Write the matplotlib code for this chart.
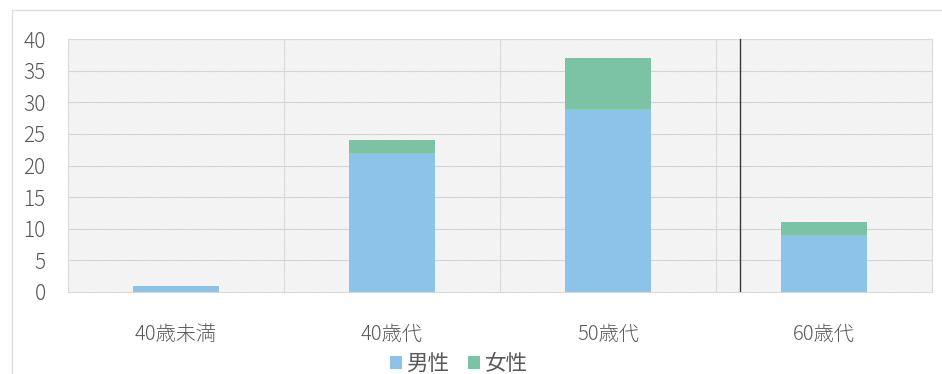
import matplotlib.pyplot as plt
from matplotlib.patches import Rectangle

plt.rcParams['font.family'] = ['Noto Sans CJK JP', 'DejaVu Sans']
plt.rcParams['hatch.color'] = '#e8e8e8'
plt.rcParams['hatch.linewidth'] = 0.5

# data
categories = ['40歳未満', '40歳代', '50歳代', '60歳代']
male = [1, 22, 29, 9]
female = [0, 2, 8, 2]
yticks = [0, 5, 10, 15, 20, 25, 30, 35, 40]

blue = '#8ec3e9'
green = '#7cc3a6'
text_col = '#595959'

fig = plt.figure(figsize=(9.42, 3.74), dpi=100)
fig.patch.set_facecolor('white')

# outer chart frame
fig.patches.append(Rectangle((12 / 942, -0.1), 1.0, 1 - 10 / 374 + 0.1,
                             transform=fig.transFigure, fill=False,
                             edgecolor='#dedede', lw=1))

ax = fig.add_axes([68 / 942, 1 - 292 / 374, 864 / 942, 253 / 374])
ax.set_facecolor('#fcfcfc')

# textured background
ax.add_patch(Rectangle((0, 0), 1, 1, transform=ax.transAxes, facecolor='none',
                       hatch='\\' * 14, lw=0, zorder=0))

x = range(len(categories))
ax.bar(x, male, width=0.4, color=blue, label='男性', zorder=3)
ax.bar(x, female, width=0.4, bottom=male, color=green, label='女性', zorder=3)

ax.set_xlim(-0.5, 3.5)
ax.set_ylim(0, 40)
ax.set_yticks(yticks)
ax.set_xticks(list(x))
ax.set_xticklabels(categories)

# grid lines
for v in yticks[1:]:
    ax.axhline(v, color='#d4d4d4', lw=0.8, zorder=1)
for b in [0.5, 1.5, 2.5]:
    ax.axvline(b, color='#dadada', lw=0.8, zorder=1)
ax.axvline(2.61, color='#3a3a3a', lw=1.0, zorder=4)

for s in ax.spines.values():
    s.set_color('#dadada')
    s.set_linewidth(0.8)

ax.tick_params(axis='y', length=0, pad=16, labelsize=15, labelcolor=text_col)
ax.tick_params(axis='x', length=0, pad=23, labelsize=14.5, labelcolor=text_col)
for lab in ax.get_yticklabels() + ax.get_xticklabels():
    lab.set_fontweight('light')

leg = ax.legend(loc='center', bbox_to_anchor=(0.487 * 942 / 864 - 68 / 864, -0.285),
                ncol=2, frameon=False, fontsize=15.5, handlelength=0.55,
                handleheight=0.55, handletextpad=0.2, columnspacing=0.9)
for t in leg.get_texts():
    t.set_color(text_col)

fig.savefig('out.png', dpi=100)
